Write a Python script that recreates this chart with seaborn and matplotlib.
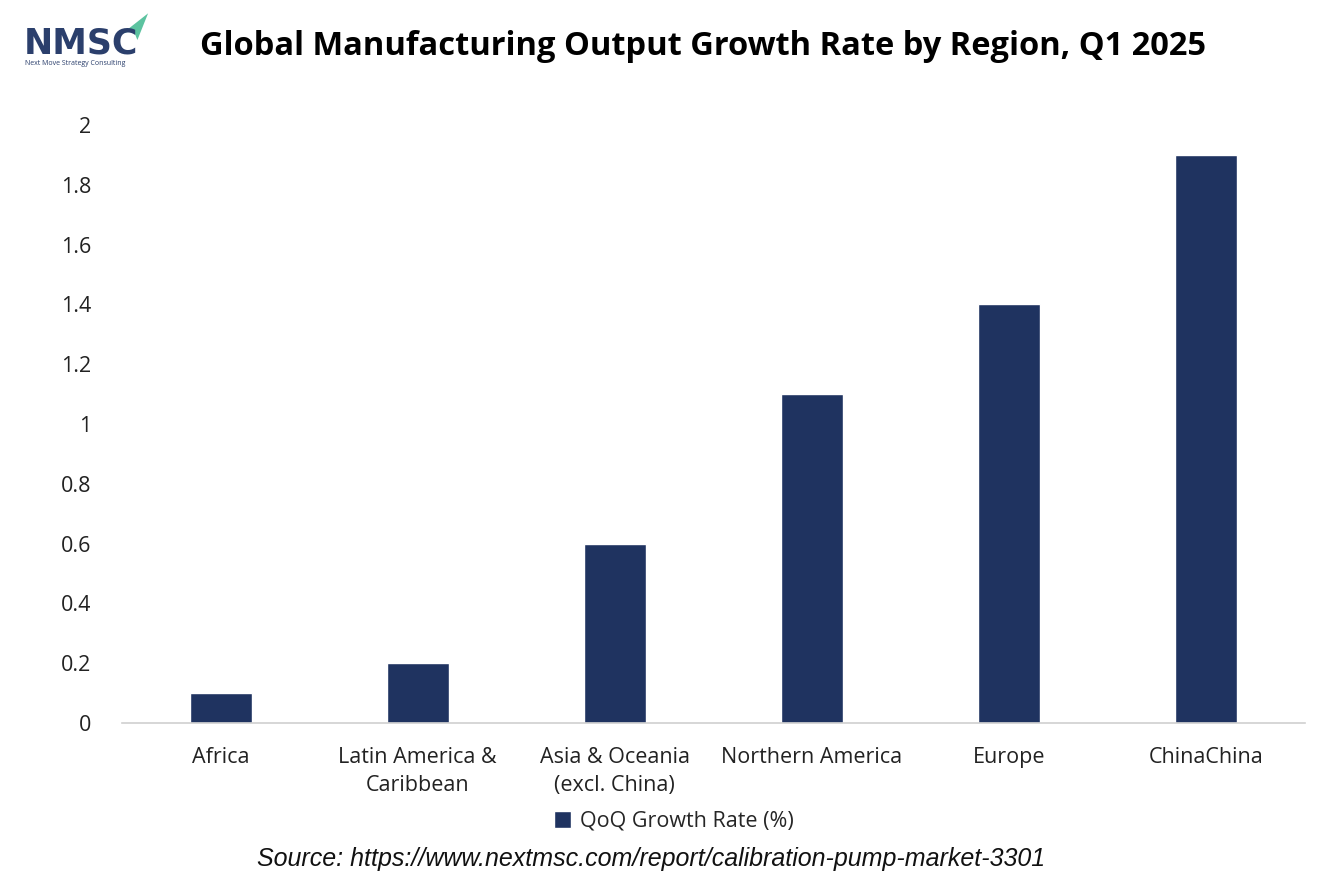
import matplotlib
matplotlib.use("Agg")
import matplotlib.pyplot as plt
import seaborn as sns
import pandas as pd
from matplotlib.patches import Polygon, Patch

regions = ["Africa", "Latin America &\nCaribbean", "Asia & Oceania\n(excl. China)",
           "Northern America", "Europe", "ChinaChina"]
growth = [0.1, 0.2, 0.6, 1.1, 1.4, 1.9]
yticks = [0, 0.2, 0.4, 0.6, 0.8, 1, 1.2, 1.4, 1.6, 1.8, 2]
ytick_labels = ["0", "0.2", "0.4", "0.6", "0.8", "1", "1.2", "1.4", "1.6", "1.8", "2"]

bar_color = "#1F3360"

df = pd.DataFrame({"region": regions, "growth": growth})

sns.set_style("white")
plt.rcParams['font.family'] = ['Open Sans', 'DejaVu Sans']

fig = plt.figure(figsize=(13.34, 8.89), dpi=100)
ax = fig.add_axes([0.0915, 0.1867, 0.8865, 0.6727])

sns.barplot(data=df, x="region", y="growth", color=bar_color, width=0.315,
            saturation=1, ax=ax)

ax.set_ylim(0, 2)
ax.set_yticks(yticks)
ax.set_yticklabels(ytick_labels)
ax.set_xlabel("")
ax.set_ylabel("")
ax.tick_params(axis="both", length=0, labelsize=15.5, colors="#222222")
ax.tick_params(axis="y", pad=22)
ax.tick_params(axis="x", pad=17)
for lbl in ax.get_xticklabels():
    lbl.set_linespacing(1.45)
for s in ["top", "right", "left"]:
    ax.spines[s].set_visible(False)
ax.spines["bottom"].set_color("#D0D0D0")
ax.spines["bottom"].set_linewidth(1.2)

# legend
leg = fig.legend(handles=[Patch(facecolor=bar_color, label="QoQ Growth Rate (%)")],
                 loc="center", bbox_to_anchor=(0.505, 0.076), frameon=False,
                 fontsize=15.5, handlelength=0.8, handleheight=0.8, handletextpad=0.4)

# title
fig.text(0.527, 0.948, "Global Manufacturing Output Growth Rate by Region, Q1 2025",
         ha="center", va="center", fontsize=23.5, fontweight="bold", color="black")

# source
fig.text(0.488, 0.034, "Source: https://www.nextmsc.com/report/calibration-pump-market-3301",
         ha="center", va="center", fontsize=18, style="italic",
         family=["Liberation Sans", "DejaVu Sans"], color="#111111")

# logo
fig.text(0.018, 0.951, "NMSC", ha="left", va="center", fontsize=25, fontweight="bold",
         color="#2B3F6C", family=["DejaVu Sans"])
fig.text(0.019, 0.929, "Next Move Strategy Consulting", ha="left", va="center",
         fontsize=5, color="#2B3F6C")
fig.patches.append(Polygon([[0.0915, 0.962], [0.111, 0.985], [0.103, 0.955], [0.100, 0.966]],
                           closed=True, transform=fig.transFigure,
                           facecolor="#5CC3A0", edgecolor="none"))

fig.savefig("out.png", dpi=100)
